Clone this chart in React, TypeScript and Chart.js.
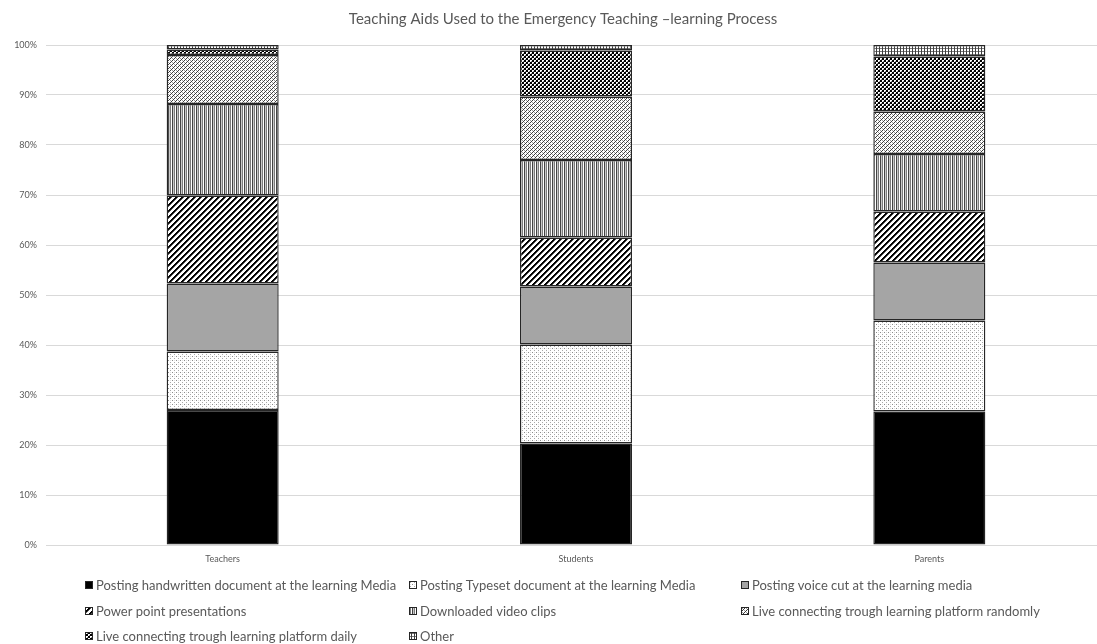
import React, { useEffect, useRef } from "react";
import { Chart, registerables } from "chart.js";

Chart.register(...registerables);

const categories = ["Teachers", "Students", "Parents"];

const seriesLabels = [
  "Posting handwritten document at the learning Media",
  "Posting Typeset document at the learning Media",
  "Posting voice cut at the learning media",
  "Power point presentations",
  "Downloaded video clips",
  "Live connecting trough learning platform randomly",
  "Live connecting trough learning platform daily",
  "Other",
];

// Shares (%) per group, bottom to top of each stacked column
const handwritten = [27.0, 20.3, 26.7];
const typeset = [11.7, 19.8, 18.2];
const voiceCut = [13.6, 11.6, 11.6];
const powerPoint = [17.6, 9.8, 10.2];
const videoClips = [18.3, 15.5, 11.5];
const liveRandomly = [9.8, 12.7, 8.5];
const liveDaily = [1.1, 9.2, 11.0];
const other = [0.9, 1.1, 2.3];

const seriesValues = [
  handwritten,
  typeset,
  voiceCut,
  powerPoint,
  videoClips,
  liveRandomly,
  liveDaily,
  other,
];

const TITLE = "Teaching Aids Used to the Emergency Teaching \u2013learning Process";
const FONT = "Lato, 'Liberation Sans', sans-serif";
const TEXT = "#595959";

type PixelFn = (x: number, y: number) => string;

function makePattern(w: number, h: number, fn: PixelFn): CanvasPattern | string {
  const c = document.createElement("canvas");
  c.width = w;
  c.height = h;
  const g = c.getContext("2d");
  if (!g) return "#ffffff";
  for (let y = 0; y < h; y++) {
    for (let x = 0; x < w; x++) {
      g.fillStyle = fn(x, y);
      g.fillRect(x, y, 1, 1);
    }
  }
  return g.createPattern(c, "repeat") || "#ffffff";
}

function buildFills(): (CanvasPattern | string)[] {
  const solidBlack = "#000000";
  // light dotted
  const dotted = makePattern(4, 4, (x, y) => {
    if (x === 0 && y === 0) return "#8c8c8c";
    if (x === 2 && y === 2) return "#a8a8a8";
    if (x === 2 && y === 0) return "#e2e2e2";
    return "#ffffff";
  });
  const gray = "#a5a5a5";
  // wide upward diagonal stripes
  const wideDiag = makePattern(6, 6, (x, y) => {
    const k = (x + y) % 6;
    if (k === 0 || k === 1) return "#000000";
    if (k === 2) return "#555555";
    return "#ffffff";
  });
  // narrow vertical stripes
  const vertical = makePattern(4, 1, (x) => ["#444444", "#c8c8c8", "#7d7d7d", "#ffffff"][x]);
  // diagonal trellis
  const trellis = makePattern(4, 4, (x, y) => {
    if ((x + y) % 4 === 0) return "#3c3c3c";
    if ((x - y + 8) % 4 === 2) return "#9a9a9a";
    return "#ffffff";
  });
  // small checkerboard
  const checker = makePattern(4, 4, (x, y) => {
    const on = ((x >> 1) + (y >> 1)) % 2 === 0;
    if (on) return "#000000";
    return x % 2 === 1 && y % 2 === 1 ? "#8a8a8a" : "#ffffff";
  });
  // small grid
  const grid = makePattern(3, 3, (x, y) => {
    if (x === 0) return "#3f3f3f";
    if (y === 0) return "#7a7a7a";
    return "#ffffff";
  });
  return [solidBlack, dotted, gray, wideDiag, vertical, trellis, checker, grid];
}

// Title centred over the full chart width, plus a three-column legend grid
const frameText = {
  id: "frameText",
  afterDraw(chart: any) {
    const ctx: CanvasRenderingContext2D = chart.ctx;
    ctx.save();
    ctx.fillStyle = TEXT;
    ctx.font = `15px ${FONT}`;
    ctx.textAlign = "center";
    ctx.textBaseline = "middle";
    ctx.fillText(TITLE, chart.width / 2, 19.5);
    ctx.restore();

    const cols = [85, 409, 741];
    const rows = [585, 611, 636];
    chart.data.datasets.forEach((ds: any, i: number) => {
      const x = cols[i % 3];
      const y = rows[Math.floor(i / 3)];
      ctx.save();
      ctx.fillStyle = ds.backgroundColor;
      ctx.fillRect(x, y - 4, 8, 8);
      ctx.strokeStyle = "#262626";
      ctx.lineWidth = 1;
      ctx.strokeRect(x + 0.5, y - 3.5, 7, 7);
      ctx.fillStyle = TEXT;
      ctx.font = `13px ${FONT}`;
      ctx.textBaseline = "middle";
      ctx.textAlign = "left";
      ctx.fillText(ds.label, x + 11, y + 0.5);
      ctx.restore();
    });
  },
};

export default function App() {
  const canvasRef = useRef<HTMLCanvasElement | null>(null);

  useEffect(() => {
    const canvas = canvasRef.current;
    if (!canvas) return;
    const fills = buildFills();
    const chart = new Chart(canvas, {
      type: "bar",
      data: {
        labels: categories,
        datasets: seriesLabels.map((label, i) => ({
          label,
          data: seriesValues[i],
          backgroundColor: fills[i] as any,
          borderColor: "#262626",
          borderWidth: 1.4,
          borderSkipped: false,
          barPercentage: 0.317,
          categoryPercentage: 1,
        })),
      },
      options: {
        responsive: false,
        animation: false,
        devicePixelRatio: 1,
        layout: { padding: { left: 4, right: 20, top: 45, bottom: 74 } },
        plugins: {
          legend: { display: false },
          tooltip: { enabled: false },
          title: { display: false },
        },
        scales: {
          x: {
            stacked: true,
            grid: { display: false, drawTicks: false },
            border: { display: false },
            ticks: { color: TEXT, font: { family: FONT, size: 9 }, padding: 8.6 },
            afterFit: (s: any) => {
              s.height = 25;
            },
          },
          y: {
            stacked: true,
            min: 0,
            max: 100,
            grid: { color: "#d9d9d9", drawTicks: false, lineWidth: 1 },
            border: { display: false },
            ticks: {
              stepSize: 10,
              color: TEXT,
              font: { family: FONT, size: 9 },
              padding: 9,
              callback: (v: any) => `${v}%`,
            },
            afterFit: (s: any) => {
              s.width = 42;
            },
          },
        },
      },
      plugins: [frameText],
    });
    return () => chart.destroy();
  }, []);

  return (
    <div
      style={{
        position: "absolute",
        left: 0,
        top: 0,
        width: 1097,
        height: 644,
        overflow: "hidden",
        background: "#ffffff",
      }}
    >
      <canvas ref={canvasRef} width={1126} height={644} style={{ display: "block" }} />
    </div>
  );
}
